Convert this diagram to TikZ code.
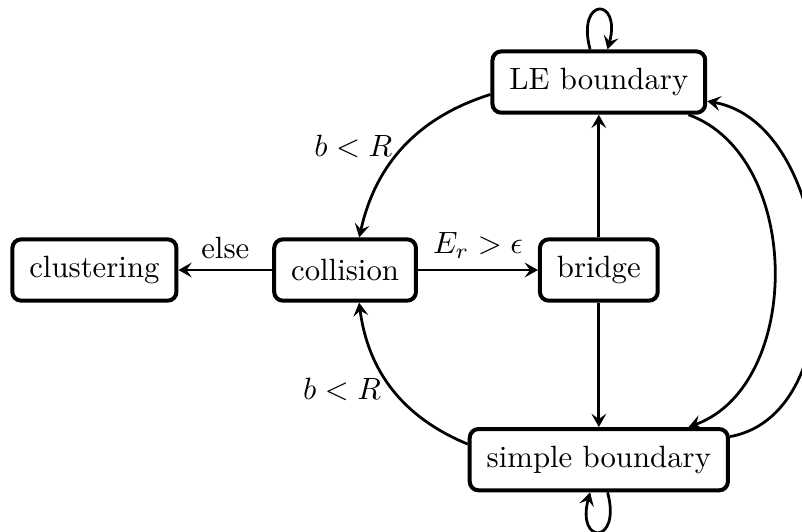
\documentclass[tikz,border=0pt]{standalone}
\usetikzlibrary{arrows.meta,positioning}
\tikzset{
    stage/.style={
        draw,
        rectangle,
        rounded corners=1mm,
        line width=1.3pt,
        align=center,
        minimum height=0.7cm,
        inner xsep=5.5pt
    },
    arrow/.style={
        ->,
        >={Stealth[length=4.3pt,width=4.8pt,inset=1.7pt]},
        line width=0.9pt
    },
    every loop/.style={
        min distance=6mm
    }
}
\begin{document}
\begin{tikzpicture}
    \useasboundingbox (-3.94,-2.98) rectangle (5.217,3.083);
    % Stages
    \node[stage] (collision) at (0,0) {collision};
    \node[stage, left=1.07cm of collision] (clustering) {clustering};
    \node[stage, right=1.37cm of collision] (bridge) {bridge};
    \node[stage, above=1.4cm of bridge] (le) {LE boundary};
    \node[stage, below=1.42cm of bridge] (simple) {simple boundary};

    % Connections
    \draw[arrow] (collision) -- node[above] {else} (clustering);
    \draw[arrow] (collision) -- node[above] {$E_r > \epsilon$} (bridge);
    \draw[arrow] (bridge) -- (le);
    \draw[arrow] (bridge) -- (simple);
    \draw[arrow] (le) to[bend right] node[left] {$b < R$} (collision);
    \draw[arrow] (simple) to[bend left] node[left] {$b < R$} (collision);
    \draw[arrow] (le) to[out=-20, in=20] (simple);
    \draw[arrow] (simple) to[out=10, in=-10] (le);
    \draw[arrow] (le) to[loop above] (le);
    \draw[arrow] (simple) to[loop below] (simple);
\end{tikzpicture}
\end{document}
